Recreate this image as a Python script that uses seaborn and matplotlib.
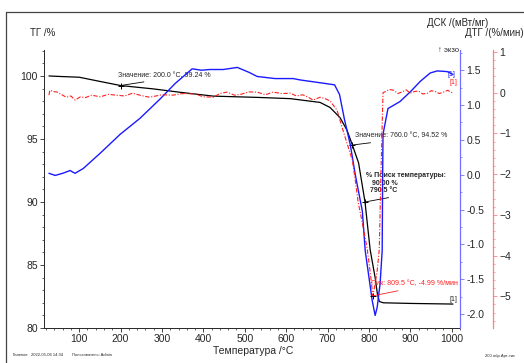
import matplotlib
matplotlib.use('Agg')
import matplotlib.pyplot as plt
import seaborn as sns
import pandas as pd
from matplotlib.lines import Line2D
from matplotlib.ticker import MultipleLocator

# ------------------------------------------------------------------
# данные
# ------------------------------------------------------------------
tg_t = [27, 60, 100, 145, 200, 280, 345, 424, 530, 610, 634, 682, 706, 730,
        747, 760, 775, 790.5, 803, 815, 820, 825, 835, 900, 1003]
tg_v = [100.0, 99.95, 99.9, 99.6, 99.24, 98.97, 98.7, 98.4, 98.3, 98.2, 98.1,
        97.9, 97.5, 96.7, 95.7, 94.52, 93.1, 90.0, 86.2, 84.0, 82.8, 82.1,
        82.0, 81.95, 81.9]

dsc_t = [27, 42, 60, 78, 90, 110, 151, 199, 247, 296, 332, 373, 395, 416, 448,
         482, 510, 530, 573, 617, 634, 658, 682, 717, 729, 741, 755, 767, 784,
         791, 808, 815, 820, 827, 832, 833, 834, 846, 875, 900, 924, 948, 965,
         989, 1003]
dsc_v = [0.02, -0.01, 0.02, 0.06, 0.02, 0.09, 0.31, 0.58, 0.81, 1.09, 1.31,
         1.52, 1.50, 1.51, 1.51, 1.54, 1.47, 1.41, 1.38, 1.38, 1.36, 1.34,
         1.32, 1.29, 1.15, 0.79, 0.43, 0.0, -0.52, -1.09, -1.81, -2.02, -1.9,
         -1.56, -1.09, -0.09, 0.58, 0.95, 1.05, 1.19, 1.34, 1.46, 1.49, 1.48,
         1.44]

dtg_t = [27, 29, 38, 47, 58, 69, 80, 90, 103, 115, 130, 151, 170, 190, 210,
         229, 250, 270, 300, 326, 350, 380, 400, 424, 440, 457, 475, 490, 510,
         530, 550, 568, 590, 610, 625, 640, 655, 665, 682, 695, 706, 723, 735,
         747, 760, 767, 774, 786, 796, 803, 809.5, 815, 820, 825, 829, 834,
         840, 850, 860, 870, 880, 890, 900, 910, 920, 930, 942, 950, 960, 970,
         980, 990, 1003]
dtg_v = [-0.06, 0.06, 0.03, 0.015, -0.05, -0.11, -0.08, -0.18, -0.1, -0.12,
         -0.06, -0.1, -0.04, -0.06, -0.08, -0.01, -0.07, -0.11, -0.05, -0.06,
         -0.02, -0.03, -0.1, -0.11, -0.02, 0.015, -0.06, -0.04, 0.02, 0.015,
         -0.05, 0.015, -0.02, -0.01, -0.08, -0.05, -0.12, -0.18, -0.11, -0.15,
         -0.2, -0.43, -0.85, -1.24, -1.66, -2.15, -2.69, -3.3, -3.85, -4.4,
         -4.99, -4.7, -4.36, -3.85, -2.0, 0.0, 0.03, 0.08, 0.06, -0.02, 0.02,
         0.07, -0.01, 0.03, 0.04, -0.03, -0.01, 0.05, 0.03, -0.02, 0.015, 0.06,
         -0.01]

# точки с подписями
mark_t = [200.0, 760.0, 790.5]
mark_v = [99.24, 94.52, 90.00]
peak_t = 809.5
peak_v = -4.99

df_tg = pd.DataFrame({'T': tg_t, 'TG': tg_v})
df_dsc = pd.DataFrame({'T': dsc_t, 'DSC': dsc_v})
df_dtg = pd.DataFrame({'T': dtg_t, 'DTG': dtg_v})

# ------------------------------------------------------------------
# оформление
# ------------------------------------------------------------------
sns.set_style('ticks')
plt.rcParams['font.family'] = ['Liberation Sans', 'DejaVu Sans']

W, H = 524, 363
fig = plt.figure(figsize=(W / 100, H / 100), dpi=100)
ax = fig.add_axes([44 / W, 1 - 328 / H, (460 - 44) / W, (328 - 50) / H])
ax_dsc = ax.twinx()
ax_dtg = ax.twinx()

BLUE = '#1a1aff'
RED = '#ff2020'

sns.lineplot(data=df_tg, x='T', y='TG', ax=ax, color='black', lw=0.9,
             estimator=None, sort=False)
sns.lineplot(data=df_dsc, x='T', y='DSC', ax=ax_dsc, color=BLUE, lw=1.0,
             estimator=None, sort=False)
sns.lineplot(data=df_dtg, x='T', y='DTG', ax=ax_dtg, color=RED, lw=0.8,
             estimator=None, sort=False, linestyle=(0, (4, 1.5, 1, 1.5)))

ax.set_xlim(15, 1020)
ax.set_ylim(80, 102.06)
ax_dsc.set_ylim(-2.2, 1.79)
ax_dtg.set_ylim(-5.78, 1.05)

for a in (ax, ax_dsc, ax_dtg):
    a.set_xlabel('')
    a.set_ylabel('')
    a.tick_params(which='major', length=3, width=0.6, labelsize=7.5, pad=1.5)
    a.tick_params(which='minor', length=1.5, width=0.5)
    a.spines['top'].set_visible(False)

ax.spines['right'].set_visible(False)
ax.spines['left'].set_linewidth(0.7)
ax.spines['bottom'].set_linewidth(0.7)
ax.xaxis.set_major_locator(MultipleLocator(100))
ax.xaxis.set_minor_locator(MultipleLocator(20))
ax.yaxis.set_major_locator(MultipleLocator(5))
ax.yaxis.set_minor_locator(MultipleLocator(1))
ax.set_xticks(range(100, 1001, 100))

for a in (ax_dsc, ax_dtg):
    a.spines['left'].set_visible(False)
    a.spines['bottom'].set_visible(False)

ax_dsc.spines['right'].set_color('#7070ff')
ax_dsc.spines['right'].set_linewidth(0.9)
ax_dsc.tick_params(axis='y', which='both', color='#7070ff')
ax_dsc.yaxis.set_major_locator(MultipleLocator(0.5))
ax_dsc.yaxis.set_minor_locator(MultipleLocator(0.25))
ax_dsc.yaxis.set_major_formatter(lambda v, p: f'{v:.1f}')

ax_dtg.spines['right'].set_position(('axes', (493 - 44) / (460 - 44)))
ax_dtg.spines['right'].set_color('#ff8080')
ax_dtg.spines['right'].set_linewidth(0.9)
ax_dtg.tick_params(axis='y', which='both', color='#ff8080')
ax_dtg.yaxis.set_major_locator(MultipleLocator(1))
ax_dtg.yaxis.set_minor_locator(MultipleLocator(0.2))

# ------------------------------------------------------------------
# подписи точек
# ------------------------------------------------------------------
ax.plot(mark_t, mark_v, '+', color='black', ms=4, mew=0.7)
ax_dtg.plot([peak_t], [peak_v], '+', color='black', ms=4, mew=0.7)

lead = dict(arrowstyle='-', lw=0.6, color='black', shrinkA=0, shrinkB=0)
ax.annotate(f'Значение: {mark_t[0]:.1f} °C, {mark_v[0]:.2f} %',
            xy=(mark_t[0], mark_v[0]), xytext=(-1.5, 5), textcoords='offset points',
            fontsize=5, ha='left', va='bottom',
            arrowprops=dict(lead, relpos=(0.5, 0)))
ax.annotate(f'Значение: {mark_t[1]:.1f} °C, {mark_v[1]:.2f} %',
            xy=(mark_t[1], mark_v[1]), xytext=(2, 4), textcoords='offset points',
            fontsize=5, ha='left', va='bottom',
            arrowprops=dict(lead, relpos=(0.45, 0)))
ax.annotate(f'% Поиск температуры:\n   {mark_v[2]:.2f} %\n  {mark_t[2]:.1f} °C',
            xy=(mark_t[2], mark_v[2]), xytext=(1, 5.5), textcoords='offset points',
            fontsize=5, ha='left', va='bottom', linespacing=1.1,
            arrowprops=dict(lead, relpos=(0.5, 0)))
ax.texts[-1].set_fontweight('bold')
ax_dtg.annotate(f'Пик: {peak_t:.1f} °C, {peak_v:.2f} %/мин',
                xy=(peak_t, peak_v), xytext=(-1.5, 6), textcoords='offset points',
                fontsize=5, ha='left', va='bottom', color=RED,
                arrowprops=dict(lead, color=RED, relpos=(0.5, 0)))

ax.text(tg_t[-1], tg_v[-1] + 0.1, '[1]', fontsize=5, ha='center', va='bottom')
ax_dsc.text(dsc_t[-1] - 3, dsc_v[-1], '[1]', fontsize=5, ha='center',
            va='center', color=BLUE)
ax_dtg.text(dtg_t[-1], dtg_v[-1] + 0.25, '[1]', fontsize=5, ha='center',
            va='center', color=RED)

# ------------------------------------------------------------------
# заголовки осей и прочий текст
# ------------------------------------------------------------------
fig.text(30 / W, 1 - 33 / H, 'ТГ /%', fontsize=7, va='center')
fig.text(427 / W, 1 - 23 / H, 'ДСК /(мВт/мг)', fontsize=7, va='center')
fig.text(465 / W, 1 - 33 / H, 'ДТГ /(%/мин)', fontsize=7, va='center')
fig.text(438 / W, 1 - 50 / H, '↑ экзо', fontsize=5.5, va='center',
         family=['Liberation Sans', 'DejaVu Sans'])
fig.text(253 / W, 1 - 351 / H, 'Температура /°C', fontsize=7.5,
         ha='center', va='center')

fig.text(13 / W, 1 - 355 / H, 'Главное', fontsize=3, va='center')
fig.text(31 / W, 1 - 355 / H, '2022-05-06 14:34', fontsize=3, va='center')
fig.text(72 / W, 1 - 355 / H, 'Пользователь: Admin', fontsize=3, va='center')
fig.text(485 / W, 1 - 356 / H, '200 обр.Арт-тис', fontsize=3, va='center')

# рамка
fig.add_artist(Line2D([6 / W, 6 / W], [0, 1 - 12 / H], color='#444444', lw=0.9))
fig.add_artist(Line2D([6 / W, 1], [1 - 12 / H, 1 - 12 / H], color='#444444', lw=0.9))

fig.savefig('out.png', dpi=100)
